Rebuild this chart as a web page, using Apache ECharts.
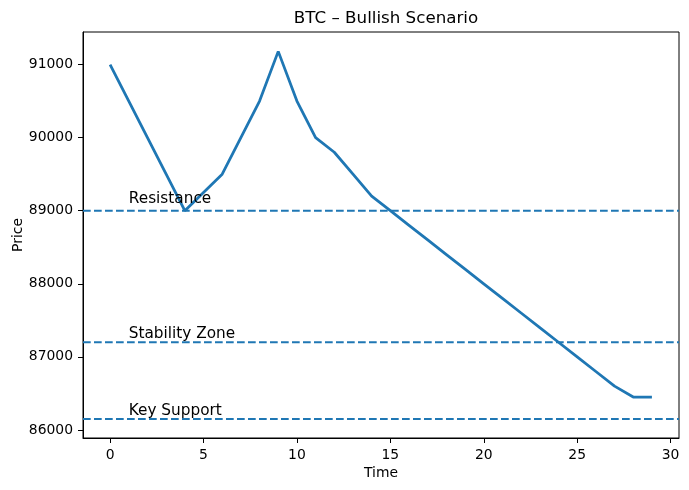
<!DOCTYPE html>
<html>
<head>
<meta charset="utf-8">
<script src="https://cdn.jsdelivr.net/npm/echarts@6/dist/echarts.min.js"></script>
<style>html,body{margin:0;padding:0;background:#fff}#c{width:689px;height:490px}</style>
</head>
<body>
<div id="c"></div>
<script>
const time = [0,1,2,3,4,5,6,7,8,9,10,11,12,13,14,15,16,17,18,19,20,21,22,23,24,25,26,27,28,29];
const price = [91000,90500,90000,89500,89000,89250,89500,90000,90500,91180,90500,90000,89800,89500,89200,89000,88800,88600,88400,88200,88000,87800,87600,87400,87200,87000,86800,86600,86450,86450];
const levelNames = ['Resistance','Stability Zone','Key Support'];
const levelValues = [89000,87200,86150];
const labelValues = [89100,87255,86200];
const xTicks = [0,5,10,15,20,25,30];
const yTicks = [86000,87000,88000,89000,90000,91000];
const labelX = 1;

const C0 = '#1f77b4';
const font = 'DejaVu Sans';
const chart = echarts.init(document.getElementById('c'));

const levelSeries = levelValues.map((v, i) => ({
  type: 'line',
  data: [[-1.45, v], [30.45, v]],
  symbol: 'none',
  lineStyle: {color: C0, width: 2.08, type: [7.7, 3.3]},
  silent: true,
  animation: false,
  z: 1
}));

const labelSeries = {
  type: 'scatter',
  data: labelValues.map((v, i) => ({value: [labelX, v], name: levelNames[i]})),
  symbolSize: 0,
  silent: true,
  animation: false,
  itemStyle: {opacity: 1},
  label: {
    show: true,
    formatter: p => p.name,
    position: [0, 3],
    align: 'left',
    verticalAlign: 'bottom',
    fontFamily: font,
    fontSize: 15.3,
    color: '#000',
    opacity: 1,
    textBorderWidth: 0
  },
  z: 5
};

chart.setOption({
  animation: false,
  title: {
    text: 'BTC – Bullish Scenario',
    left: 381,
    top: 5,
    textAlign: 'center',
    textStyle: {fontFamily: font, fontSize: 16.7, fontWeight: 'normal', color: '#000'}
  },
  grid: {left: 83, top: 32, right: 10, bottom: 52, outerBoundsMode: 'none', containLabel: false, show: true, borderColor: '#000', borderWidth: 1, backgroundColor: 'transparent'},
  xAxis: {
    type: 'value',
    min: -1.45, max: 30.45,
    name: 'Time', nameLocation: 'middle', nameGap: 28, nameMoveOverlap: false,
    nameTextStyle: {fontFamily: font, fontSize: 13.9, color: '#000'},
    axisLine: {show: true, onZero: false, lineStyle: {color: '#000', width: 1}},
    axisTick: {show: true, length: 5, lineStyle: {color: '#000'}, customValues: xTicks},
    axisLabel: {fontFamily: font, fontSize: 13.9, color: '#000', margin: 10, customValues: xTicks, formatter: v => String(v)},
    splitLine: {show: false}
  },
  yAxis: {
    type: 'value',
    min: 85890, max: 91445,
    name: 'Price', nameLocation: 'middle', nameGap: 58, nameMoveOverlap: false,
    nameTextStyle: {fontFamily: font, fontSize: 13.9, color: '#000'},
    axisLine: {show: true, onZero: false, lineStyle: {color: '#000', width: 1}},
    axisTick: {show: true, length: 5, lineStyle: {color: '#000'}, customValues: yTicks},
    axisLabel: {fontFamily: font, fontSize: 13.9, color: '#000', margin: 10, customValues: yTicks, formatter: v => String(v)},
    splitLine: {show: false}
  },
  series: [
    ...levelSeries,
    {
      type: 'line',
      data: time.map((t, i) => [t, price[i]]),
      symbol: 'none',
      lineStyle: {color: C0, width: 2.78},
      z: 3
    },
    labelSeries
  ]
});
</script>
</body>
</html>
